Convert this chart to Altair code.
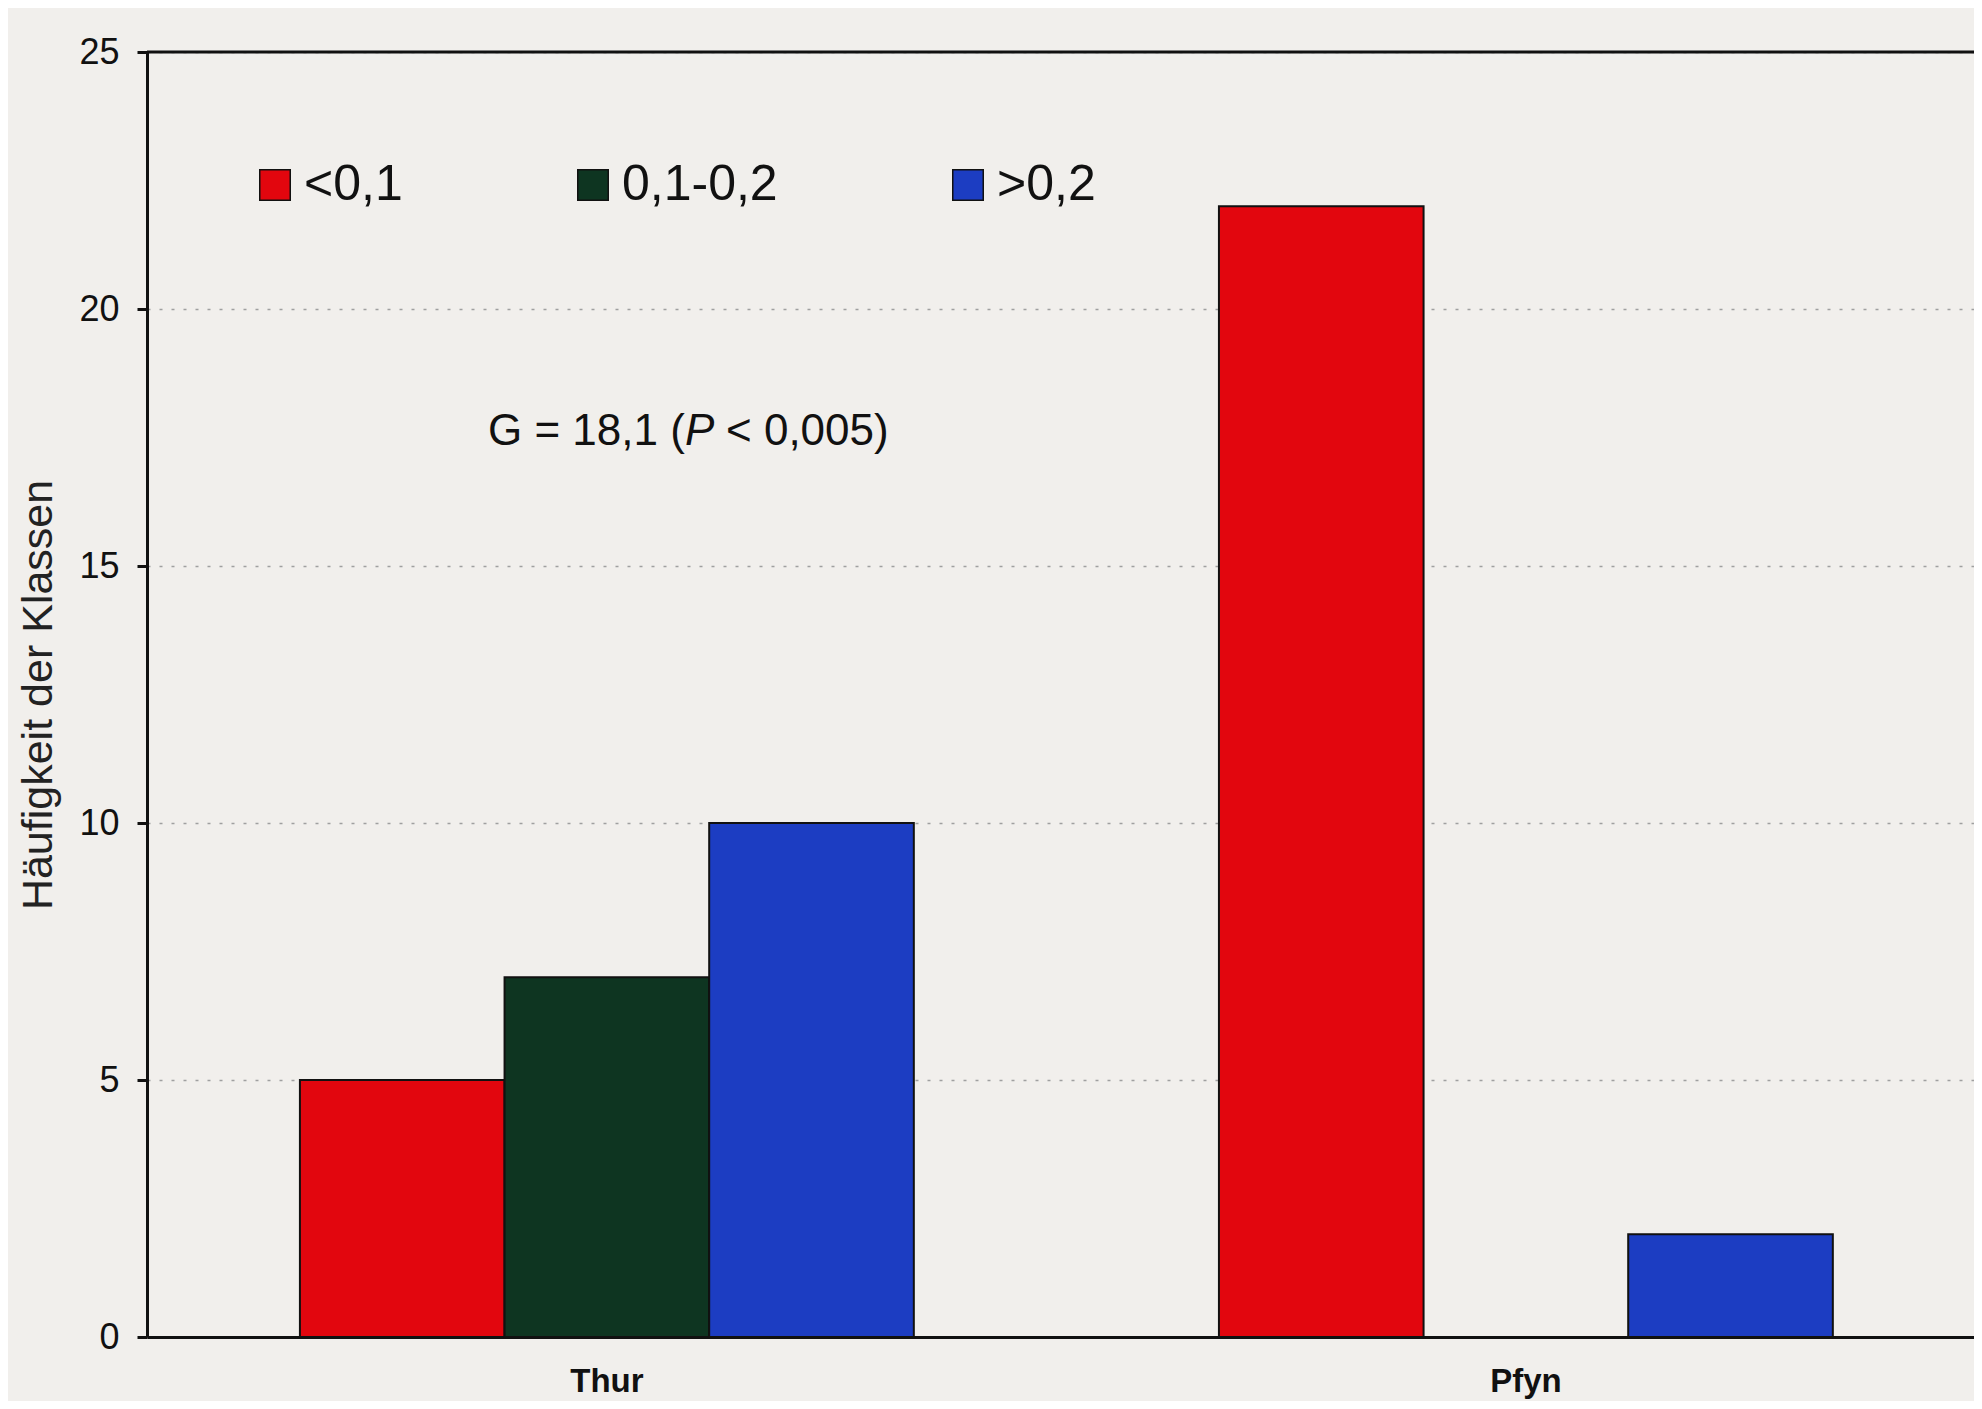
import altair as alt
import pandas as pd

sites = ["Thur", "Thur", "Thur", "Pfyn", "Pfyn", "Pfyn"]
classes = ["<0,1", "0,1-0,2", ">0,2", "<0,1", "0,1-0,2", ">0,2"]
counts = [5, 7, 10, 22, 0, 2]
site_order = ["Thur", "Pfyn"]
class_order = ["<0,1", "0,1-0,2", ">0,2"]
class_colors = ["#E2060E", "#0E3521", "#1C3DC2"]
y_ticks = [0, 5, 10, 15, 20, 25]
y_title = "Häufigkeit der Klassen"
note_parts = ["G = 18,1 (", "P", "< 0,005)"]

df = pd.DataFrame({"site": sites, "cls": classes, "n": counts})

FONT = "Liberation Sans"
BG = "#F1EFEC"

bars = alt.Chart(df).mark_bar(stroke="#111111", strokeWidth=2).encode(
    x=alt.X("site:N", sort=site_order,
            scale=alt.Scale(paddingInner=0.332, paddingOuter=0.16, align=0.52),
            axis=alt.Axis(title=None, labelAngle=0, labelFontSize=33,
                          labelFontWeight="bold", labelFont=FONT,
                          labelColor="#111111", ticks=False, labelPadding=28,
                          domainColor="#111111", domainWidth=3, grid=False)),
    xOffset=alt.XOffset("cls:N", sort=class_order,
                        scale=alt.Scale(paddingInner=0, paddingOuter=0)),
    y=alt.Y("n:Q", scale=alt.Scale(domain=[y_ticks[0], y_ticks[-1]], nice=False),
            axis=alt.Axis(title=y_title, values=y_ticks, labelFontSize=36,
                          labelFont=FONT, labelColor="#111111", labelPadding=18,
                          tickSize=10, tickWidth=3, tickColor="#111111",
                          domainColor="#111111", domainWidth=3,
                          titleFont=FONT, titleFontSize=43, titleFontWeight="normal",
                          titleColor="#222222", titlePadding=18,
                          grid=True, gridColor="#A0A0A0", gridDash=[3, 9],
                          gridWidth=1.5)),
    color=alt.Color("cls:N", sort=class_order,
                    scale=alt.Scale(domain=class_order, range=class_colors),
                    legend=alt.Legend(title=None, orient="none", direction="horizontal",
                                      legendX=103, legendY=108,
                                      symbolType="square", symbolSize=930,
                                      symbolStrokeColor="#111111", symbolStrokeWidth=1.5,
                                      symbolOpacity=1, labelFontSize=50, labelFont=FONT,
                                      labelColor="#111111", labelOffset=4,
                                      columnPadding=165, padding=0)),
)

top_line = alt.Chart(pd.DataFrame({"v": [y_ticks[-1]]})).mark_rule(
    color="#111111", strokeWidth=3).encode(y="v:Q")

note_style = dict(align="left", baseline="middle", font=FONT, fontSize=44, color="#111111")
t1 = alt.Chart(pd.DataFrame({"t": [note_parts[0]]})).mark_text(**note_style).encode(
    text="t:N", x=alt.value(341), y=alt.value(380))
t2 = alt.Chart(pd.DataFrame({"t": [note_parts[1]]})).mark_text(fontStyle="italic", **note_style).encode(
    text="t:N", x=alt.value(538), y=alt.value(380))
t3 = alt.Chart(pd.DataFrame({"t": [note_parts[2]]})).mark_text(**note_style).encode(
    text="t:N", x=alt.value(579), y=alt.value(380))

chart = alt.layer(bars, top_line, t1, t2, t3).properties(
    width=1827, height=1285,
    autosize=alt.AutoSizeParams(type="none"),
    padding={"left": 139, "top": 44, "right": 0, "bottom": 64},
    background=BG,
).configure_view(stroke=None)

chart.save("out.html", embed_options={"renderer": "svg", "actions": False})
